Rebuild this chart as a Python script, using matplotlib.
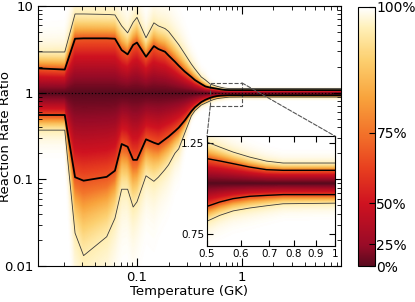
import math
import numpy as np
import matplotlib
matplotlib.use("Agg")
import matplotlib.pyplot as plt
from matplotlib.colors import LinearSegmentedColormap
from matplotlib.patches import Rectangle, ConnectionPatch
from matplotlib.ticker import FixedLocator, NullLocator, FuncFormatter

# temperature grid (GK) and rate-ratio contours
temps = [0.0114, 0.0205, 0.0257, 0.031, 0.0515, 0.0617, 0.0715, 0.0815, 0.092, 0.1,
         0.122, 0.145, 0.16, 0.185, 0.2, 0.23, 0.25, 0.286, 0.33, 0.357,
         0.41, 0.45, 0.5, 0.536, 0.576, 0.63, 0.69, 0.755, 1.0, 8.8]
hi2 = [2.95, 2.95, 8.1, 8.1, 8.0, 7.9, 5.9, 4.9, 6.5, 7.4,
       4.3, 6.4, 5.9, 5.5, 5.1, 4.1, 3.59, 2.8, 2.14, 1.88,
       1.52, 1.40, 1.257, 1.222, 1.188, 1.155, 1.129, 1.117, 1.117, 1.117]
hi1 = [1.91, 1.85, 4.2, 4.24, 4.24, 4.2, 3.1, 2.77, 3.56, 3.79,
       2.6, 3.45, 3.19, 2.97, 2.69, 2.28, 2.05, 1.75, 1.52, 1.40,
       1.26, 1.18, 1.145, 1.13, 1.113, 1.092, 1.076, 1.072, 1.072, 1.072]
lo1 = [0.553, 0.553, 0.106, 0.0966, 0.107, 0.126, 0.256, 0.238, 0.168, 0.168,
       0.29, 0.265, 0.254, 0.29, 0.311, 0.36, 0.395, 0.48, 0.61, 0.68,
       0.78, 0.83, 0.875, 0.897, 0.914, 0.926, 0.931, 0.935, 0.935, 0.935]
lo2 = [0.37, 0.37, 0.024, 0.0132, 0.0218, 0.0356, 0.077, 0.077, 0.048, 0.055,
       0.11, 0.095, 0.106, 0.13, 0.147, 0.20, 0.225, 0.344, 0.54, 0.62,
       0.72, 0.76, 0.805, 0.832, 0.853, 0.867, 0.878, 0.888, 0.891, 0.891]

cbar_levels = [0, 0.25, 0.5, 0.75, 1.0]
cbar_pos = [0, 0.085, 0.243, 0.514, 1.0]
cbar_labels = ["0%", "25%", "50%", "75%", "100%"]

cmap = LinearSegmentedColormap.from_list("rr", [
    (0.0, "#5a0a1e"), (0.08, "#980b27"), (0.24, "#cf1220"), (0.38, "#e8401f"),
    (0.51, "#f2722a"), (0.65, "#f8a33c"), (0.80, "#fcd070"), (0.92, "#fff0b8"),
    (1.0, "#ffffff")])

erf = np.vectorize(math.erf)


def field(tg, rg):
    lt = np.log10(temps)
    x = np.log10(tg)
    h1 = np.interp(x, lt, np.log10(hi1))
    h2 = np.interp(x, lt, np.log10(hi2))
    l1 = np.interp(x, lt, np.log10(lo1))
    l2 = np.interp(x, lt, np.log10(lo2))
    ly = np.log10(rg)[:, None]
    zu = np.where(ly <= h1, ly / h1, 1 + (ly - h1) / (h2 - h1))
    zu = np.where(ly <= h2, zu, 2 + 0.6 * (ly - h2) / (h2 - h1))
    zl = np.where(ly >= l1, ly / l1, 1 + (ly - l1) / (l2 - l1))
    zl = np.where(ly >= l2, zl, 2 + 0.6 * (ly - l2) / (l2 - l1))
    z = np.where(ly >= 0, zu, zl)
    cov = erf(z / np.sqrt(2))
    return np.interp(cov, cbar_levels, cbar_pos)


fig = plt.figure(figsize=(4.15, 3.02), dpi=100)
ax = fig.add_axes([0.0916, 0.119, 0.730, 0.861])

tg = np.logspace(np.log10(0.0114), np.log10(8.8), 500)
rg = np.logspace(-2, 1, 500)
mesh = ax.pcolormesh(tg, rg, field(tg, rg), cmap=cmap, vmin=0, vmax=1,
                     shading="gouraud", rasterized=True)
ax.plot(temps, hi2, color="#3a3a3a", lw=0.6)
ax.plot(temps, lo2, color="#3a3a3a", lw=0.6)
ax.plot(temps, hi1, color="k", lw=1.3)
ax.plot(temps, lo1, color="k", lw=1.3)
ax.axhline(1, color="k", ls=(0, (1, 2)), lw=0.8)

ax.set_xscale("log")
ax.set_yscale("log")
ax.set_xlim(0.0114, 8.8)
ax.set_ylim(0.01, 10)
fmt = FuncFormatter(lambda v, p: "%g" % v)
ax.xaxis.set_major_formatter(fmt)
ax.yaxis.set_major_formatter(fmt)
ax.tick_params(which="both", direction="in", top=True, right=True, labelsize=9.5)
ax.tick_params(which="major", length=6)
ax.tick_params(which="minor", length=3)
ax.set_xlabel("Temperature (GK)", fontsize=9.5, labelpad=1)
ax.set_ylabel("Reaction Rate Ratio", fontsize=9.5)
ax.yaxis.set_label_coords(-0.086, 0.5)

# zoom box
ax.add_patch(Rectangle((0.5, 0.7), 0.5, 0.6, fill=False, ls="--", ec="#555555", lw=0.8))

axin = fig.add_axes([0.4988, 0.1854, 0.3084, 0.364])
tg2 = np.logspace(np.log10(0.5), 0, 300)
rg2 = np.logspace(np.log10(0.7), np.log10(1.3), 300)
axin.pcolormesh(tg2, rg2, field(tg2, rg2), cmap=cmap, vmin=0, vmax=1,
                shading="gouraud", rasterized=True)
axin.plot(temps, hi2, color="#3a3a3a", lw=0.6)
axin.plot(temps, lo2, color="#3a3a3a", lw=0.6)
axin.plot(temps, hi1, color="k", lw=1.0)
axin.plot(temps, lo1, color="k", lw=1.0)
axin.set_xscale("log")
axin.set_yscale("log")
axin.set_xlim(0.5, 1.0)
axin.set_ylim(0.7, 1.3)
axin.xaxis.set_major_locator(FixedLocator([0.5, 0.6, 0.7, 0.8, 0.9, 1.0]))
axin.xaxis.set_minor_locator(NullLocator())
axin.yaxis.set_major_locator(FixedLocator([0.75, 1.25]))
axin.yaxis.set_minor_locator(NullLocator())
axin.xaxis.set_major_formatter(fmt)
axin.yaxis.set_major_formatter(fmt)
axin.tick_params(which="both", direction="in", top=True, right=True,
                 labelsize=7.5, length=4, pad=2)

for xa, xb in [((1.0, 1.3), (1, 1)), ((0.5, 0.7), (0, 1))]:
    con = ConnectionPatch(xyA=xa, coordsA=ax.transData, xyB=xb, coordsB=axin.transAxes,
                          ls="--", color="#555555", lw=0.8)
    fig.add_artist(con)

cax = fig.add_axes([0.8627, 0.119, 0.041, 0.858])
cb = fig.colorbar(mesh, cax=cax, ticks=cbar_pos)
cb.ax.set_yticklabels(cbar_labels)
cb.ax.tick_params(direction="in", length=4, labelsize=10, pad=1)
cb.ax.yaxis.set_minor_locator(NullLocator())

fig.savefig("out.png", dpi=100)
